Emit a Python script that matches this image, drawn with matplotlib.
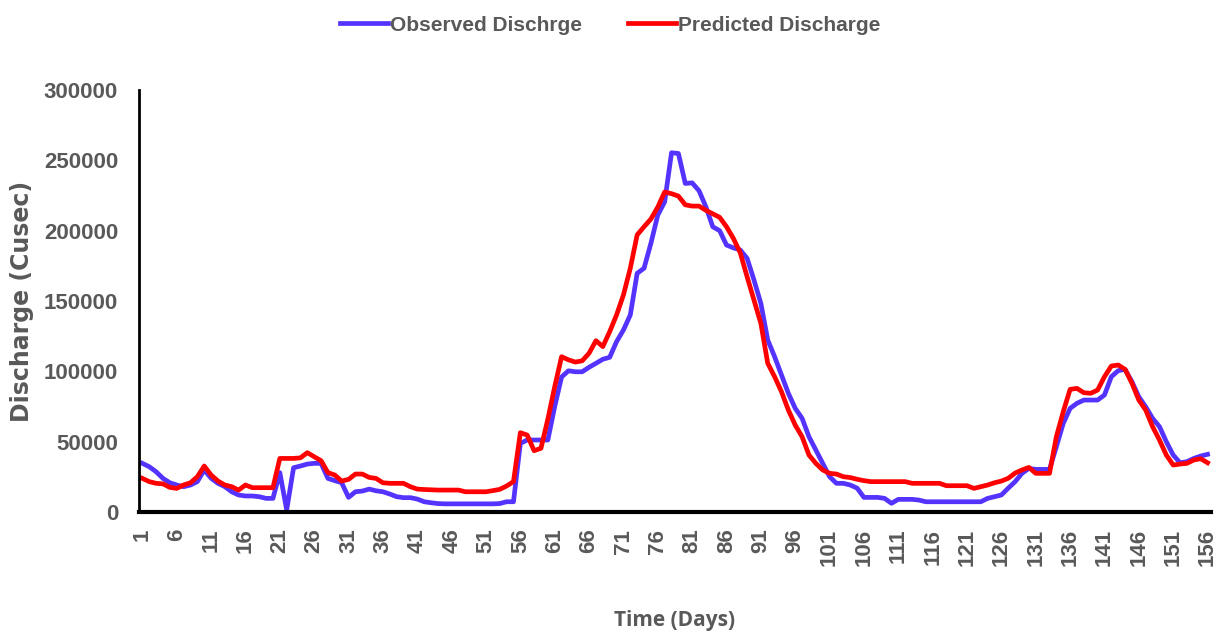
"""Observed vs predicted discharge chart."""

import matplotlib
matplotlib.use("Agg")
import matplotlib.pyplot as plt

# Daily values (cusec)
observed = [
    34600, 32200, 28600, 23900, 20800, 19200, 18000, 19200, 21600, 29900,
    24000, 20400, 18000, 14400, 12100, 11400, 11400, 10900, 9700, 9700,
    28000, 1500, 31500, 32700, 34100, 34600, 34600, 23900, 22300, 20800,
    10400, 14400, 14900, 16300, 15100, 14400, 12800, 10900, 10200, 10200,
    9200, 7300, 6600, 6000, 5800, 5800, 5800, 5800, 5800, 5800,
    5800, 5800, 6000, 7300, 7300, 48800, 51200, 51200, 51200, 51200,
    75000, 96000, 100400, 99700, 99700, 102900, 105700, 108600, 110000, 121100,
    129400, 140100, 169700, 173300, 191100, 211100, 220500, 255400, 254900, 233600,
    234000, 228400, 217000, 202800, 200000, 189800, 187800, 186300, 180300, 164900,
    148300, 122300, 110400, 97400, 84400, 73700, 66600, 53500, 44100, 34600,
    25100, 20400, 20400, 19200, 17000, 10400, 10400, 10400, 9700, 6200,
    9000, 9000, 9000, 8500, 7300, 7300, 7300, 7300, 7300, 7300,
    7300, 7300, 7300, 9700, 10900, 12100, 17000, 21600, 27500, 31000,
    30300, 30300, 30300, 46400, 63000, 73700, 77300, 79600, 79600, 79600,
    83200, 96200, 100500, 101400, 92600, 81900, 74800, 66600, 60700, 50000,
    40500, 35000, 35800, 38100, 39800, 41000,
]
predicted = [
    23900, 21600, 20400, 20000, 17500, 16800, 19200, 20800, 25100, 32700,
    26300, 22000, 19200, 18000, 15600, 19200, 17300, 17300, 17300, 17300,
    38100, 38100, 38100, 38500, 42200, 39300, 36500, 28000, 26300, 22000,
    23200, 27000, 27000, 24600, 23900, 20800, 20400, 20400, 20400, 18000,
    16300, 16000, 15800, 15600, 15600, 15600, 15600, 14400, 14400, 14400,
    14400, 15200, 16100, 18500, 21600, 56400, 54700, 43600, 45300, 66000,
    89100, 110400, 108200, 106600, 107500, 112900, 121800, 117600, 128200, 140100,
    154300, 173300, 197000, 202800, 208300, 216800, 227500, 226300, 224600, 218400,
    217500, 217500, 214500, 212000, 209500, 202800, 194500, 184300, 167200, 150700,
    134100, 105700, 96200, 85500, 72500, 61800, 53500, 40500, 34600, 29900,
    27500, 27000, 25100, 24500, 23300, 22300, 21600, 21600, 21600, 21600,
    21600, 21600, 20400, 20400, 20400, 20400, 20400, 18700, 18700, 18700,
    18700, 16800, 18000, 19200, 20800, 22000, 24000, 27700, 29900, 31700,
    27500, 27500, 27500, 53500, 71300, 87200, 87900, 84800, 84400, 86700,
    96200, 103800, 104500, 101400, 91500, 79600, 72500, 60700, 51200, 40500,
    33400, 34100, 34600, 37000, 37900, 35000,
]
days = list(range(1, len(observed) + 1))
x_ticks = list(range(1, 157, 5))
y_ticks = [0, 50000, 100000, 150000, 200000, 250000, 300000]

TEXT = "#595959"
FONT = "Liberation Sans"

fig = plt.figure(figsize=(12.21, 6.34), dpi=100)
ax = fig.add_axes([0.1138, 0.1924, 0.878, 0.6656])

ax.plot(days, observed, color="#5533FF", linewidth=3.4, label="Observed Dischrge")
ax.plot(days, predicted, color="#FF0000", linewidth=3.4, label="Predicted Discharge")

ax.set_xlim(0.5, 156.5)
ax.set_ylim(0, 300000)
ax.set_yticks(y_ticks)
ax.set_xticks(x_ticks)
ax.set_yticklabels([str(v) for v in y_ticks], fontsize=16, fontweight="bold",
                   color=TEXT, family=FONT)
ax.set_xticklabels([str(v) for v in x_ticks], fontsize=16, fontweight="bold",
                   color=TEXT, family=FONT, rotation=90)
ax.tick_params(axis="y", length=0, pad=15)
ax.tick_params(axis="x", length=0, pad=12)

# Excel-like axes: only left and bottom lines
for side in ("top", "right"):
    ax.spines[side].set_visible(False)
ax.spines["left"].set_linewidth(2)
ax.spines["bottom"].set_linewidth(3)
ax.spines["left"].set_color("black")
ax.spines["bottom"].set_color("black")

ax.set_ylabel("Discharge (Cusec)", fontsize=17, fontweight="bold", color=TEXT,
              family="DejaVu Sans", va="center")
ax.yaxis.set_label_coords(-0.109, 0.5)
ax.set_xlabel("Time (Days)", fontsize=15, fontweight="bold", color=TEXT,
              family="Open Sans", labelpad=32)

fig.legend(loc="upper center", bbox_to_anchor=(0.5, 1.005), ncol=2, frameon=False,
           prop={"family": FONT, "weight": "bold", "size": 15},
           labelcolor=TEXT, handlelength=2.3, handletextpad=0.1, columnspacing=2.2)

fig.savefig("out.png", dpi=100)
plt.close(fig)
